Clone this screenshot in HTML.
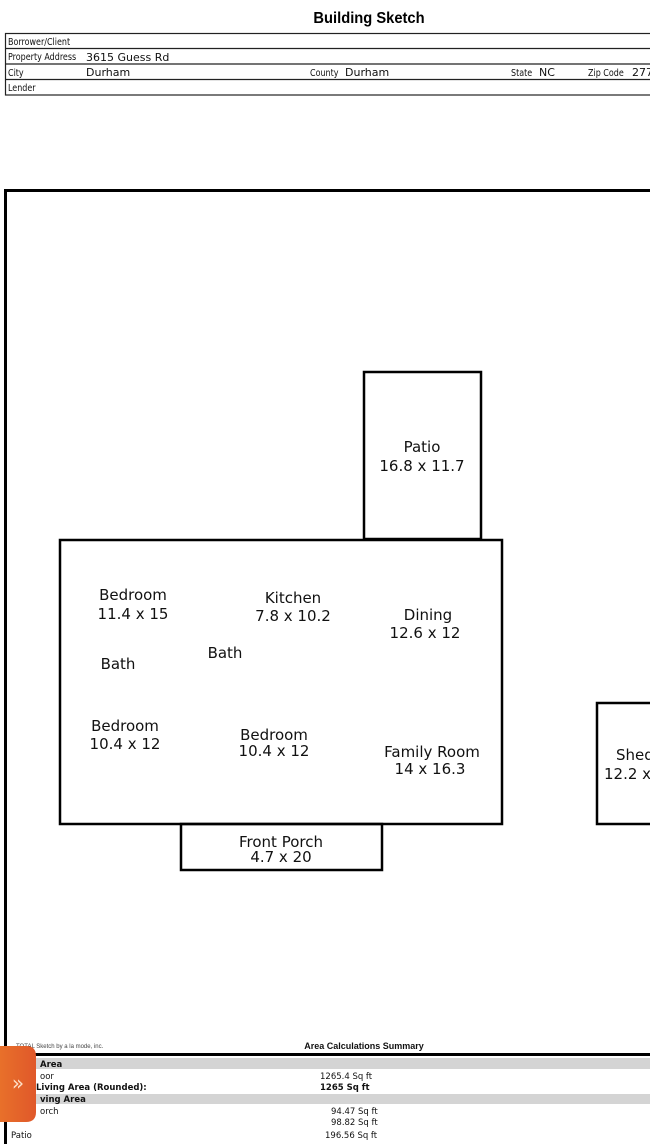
<!DOCTYPE html>
<html><head><meta charset="utf-8"><style>
html,body{margin:0;padding:0;background:#fff;width:650px;height:1144px;overflow:hidden}
svg text{font-family:"DejaVu Sans","Liberation Sans",sans-serif}
.n{font-family:"Liberation Sans",sans-serif}
</style></head><body>
<svg width="650" height="1144" viewBox="0 0 650 1144" xmlns="http://www.w3.org/2000/svg">
<rect width="650" height="1144" fill="#fff"/>
<text x="369" y="23" text-anchor="middle" font-family="Liberation Sans" font-weight="bold" font-size="16" style="font-family:'Liberation Sans',sans-serif" transform="translate(369 0) scale(0.92 1) translate(-369 0)">Building Sketch</text>
<g stroke="#222" stroke-width="1.2" fill="none">
<rect x="5.5" y="33.5" width="660" height="61.5"/>
<line x1="5" y1="48.5" x2="650" y2="48.5"/>
<line x1="5" y1="64" x2="650" y2="64"/>
<line x1="5" y1="79.5" x2="650" y2="79.5"/>
</g>
<g font-size="10" fill="#111" style="font-family:'Liberation Sans',sans-serif">
<text x="8" y="45" transform="translate(8 0) scale(0.8 1) translate(-8 0)">Borrower/Client</text>
<text x="8" y="60" transform="translate(8 0) scale(0.8 1) translate(-8 0)">Property Address</text>
<text x="8" y="76" transform="translate(8 0) scale(0.8 1) translate(-8 0)">City</text>
<text x="8" y="91" transform="translate(8 0) scale(0.8 1) translate(-8 0)">Lender</text>
<text x="310" y="76" transform="translate(310 0) scale(0.8 1) translate(-310 0)">County</text>
<text x="511" y="76" transform="translate(511 0) scale(0.8 1) translate(-511 0)">State</text>
<text x="588" y="76" transform="translate(588 0) scale(0.8 1) translate(-588 0)">Zip Code</text>
</g>
<g font-size="11" fill="#111" style="font-family:'Liberation Sans',sans-serif">
<text x="86" y="61">3615 Guess Rd</text>
<text x="86" y="76">Durham</text>
<text x="345" y="76">Durham</text>
<text x="539" y="76">NC</text>
<text x="632" y="76">277</text>
</g>
<g stroke="#000" stroke-width="3" fill="none">
<line x1="5.5" y1="190" x2="5.5" y2="1144"/>
<line x1="4" y1="190.5" x2="650" y2="190.5"/>
<line x1="4" y1="1054.5" x2="650" y2="1054.5"/>
</g>
<g stroke="#000" stroke-width="2.5" fill="none">
<rect x="364" y="372" width="117" height="167"/>
<rect x="60" y="540" width="442" height="284"/>
<rect x="181" y="824" width="201" height="46"/>
<rect x="597" y="703" width="60" height="121"/>
</g>
<g font-size="15" fill="#111" text-anchor="middle">
<text x="422" y="452">Patio</text><text x="422" y="471">16.8 x 11.7</text>
<text x="133" y="600">Bedroom</text><text x="133" y="619">11.4 x 15</text>
<text x="293" y="603">Kitchen</text><text x="293" y="621">7.8 x 10.2</text>
<text x="428" y="620">Dining</text><text x="425" y="638">12.6 x 12</text>
<text x="118" y="669">Bath</text>
<text x="225" y="658">Bath</text>
<text x="125" y="731">Bedroom</text><text x="125" y="749">10.4 x 12</text>
<text x="274" y="740">Bedroom</text><text x="274" y="756">10.4 x 12</text>
<text x="432" y="757">Family Room</text><text x="430" y="774">14 x 16.3</text>
<text x="281" y="847">Front Porch</text><text x="281" y="862">4.7 x 20</text>
<text x="616" y="760" text-anchor="start">Shed</text><text x="604" y="779" text-anchor="start">12.2 x</text>
</g>
<text x="16" y="1048" font-size="6" fill="#444" style="font-family:'Liberation Sans',sans-serif">TOTAL Sketch by a la mode, inc.</text>
<text x="364" y="1049" font-size="9" font-weight="bold" text-anchor="middle" fill="#111" style="font-family:'Liberation Sans',sans-serif">Area Calculations Summary</text>
<rect x="7" y="1058" width="643" height="11" fill="#d4d4d4"/>
<rect x="7" y="1094" width="643" height="10" fill="#d4d4d4"/>
<g font-size="8.5" fill="#111">
<text x="40" y="1067" font-weight="bold">Area</text>
<text x="40" y="1079">oor</text>
<text x="36" y="1090" font-weight="bold">Living Area (Rounded):</text>
<text x="40" y="1102" font-weight="bold">ving Area</text>
<text x="40" y="1114">orch</text>
<text x="11" y="1138">Patio</text>
<text x="320" y="1079">1265.4 Sq ft</text>
<text x="320" y="1090" font-weight="bold">1265 Sq ft</text>
<text x="331" y="1114">94.47 Sq ft</text>
<text x="331" y="1125">98.82 Sq ft</text>
<text x="325" y="1138">196.56 Sq ft</text>
</g>
<defs><linearGradient id="og" x1="0" x2="1"><stop offset="0" stop-color="#e8702a"/><stop offset="1" stop-color="#e0582a"/></linearGradient></defs>
<path d="M0 1046 H26 Q36 1046 36 1056 V1112 Q36 1122 26 1122 H0 Z" fill="url(#og)"/>
<text x="18" y="1090" font-size="20" fill="#fde0c8" text-anchor="middle">»</text>
</svg>
</body></html>
